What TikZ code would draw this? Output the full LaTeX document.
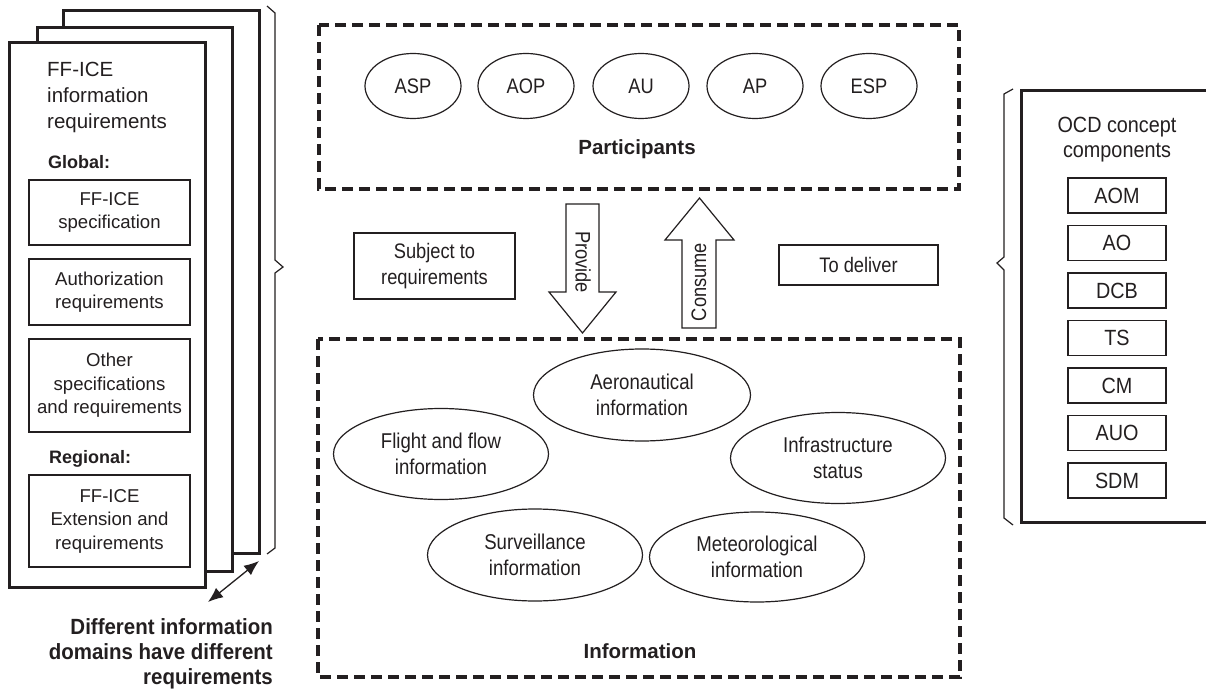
\documentclass[tikz,border=0pt]{standalone}
\usepackage{fontspec}
\setmainfont{Liberation Sans}
\newfontfamily\cond[FakeStretch=0.87]{Liberation Sans}
\newfontfamily\rcond[FakeStretch=0.9]{Liberation Sans}
\newfontfamily\dcond[FakeStretch=0.93]{Liberation Sans}
\usetikzlibrary{shapes.geometric,arrows.meta}
\definecolor{ink}{RGB}{35,31,32}
\tikzset{
  page/.style={draw=ink, line width=3pt, fill=white},
  lbox/.style={draw=ink, line width=1.3pt, minimum width=161pt, inner sep=0pt, align=center, font=\fontsize{18.6}{23.5}\selectfont},
  lhead/.style={inner sep=0pt, align=left, font=\fontsize{20.5}{26}\selectfont},
  lsub/.style={inner sep=0pt, font=\bfseries\fontsize{18}{22}\selectfont},
  dbox/.style={draw=ink, line width=3.1pt, dash pattern=on 11pt off 6pt},
  pell/.style={ellipse, draw=ink, line width=1.2pt, minimum width=96pt, minimum height=65pt, inner sep=0pt, font=\cond\fontsize{21}{26}\selectfont},
  iell/.style={ellipse, draw=ink, line width=1.2pt, minimum width=215pt, minimum height=91pt, inner sep=0pt, align=center, font=\cond\fontsize{21.4}{26}\selectfont},
  blabel/.style={inner sep=0pt, font=\bfseries\fontsize{20.5}{25}\selectfont},
  mbox/.style={draw=ink, line width=1.3pt, inner sep=0pt, align=center, font=\cond\fontsize{21}{26}\selectfont},
  barrow/.style={draw=ink, line width=1.2pt, fill=white},
  alabel/.style={inner sep=0pt, font=\cond\fontsize{21}{26}\selectfont},
  rbox/.style={draw=ink, line width=1.4pt, minimum width=98pt, minimum height=35pt, inner sep=0pt, font=\rcond\fontsize{22}{25}\selectfont},
  bracepath/.style={draw=ink, line width=1.2pt},
  dnote/.style={inner sep=0pt, align=right, font=\dcond\bfseries\fontsize{22}{25}\selectfont},
}
\begin{document}
\begin{tikzpicture}[x=1pt,y=-1pt, every node/.style={text=ink}]
\useasboundingbox (0,0) rectangle (1206,692);
\fill[white] (0,0) rectangle (1206,692);

% ---------- left stack ----------
\draw[page] (63,11) rectangle (259,553);
\draw[page] (37,28) rectangle (232,571);
\draw[page] (9,43) rectangle (205,587);

\node[lhead, anchor=north west] (lhd) at (47,61.5) {FF-ICE\\information\\requirements};
\node[lsub, anchor=base west] (glob) at (48,169) {Global:};
\node[lbox, minimum height=65pt] (g1) at (109.5,212.5) {FF-ICE\\specification};
\node[lbox, minimum height=66pt] (g2) at (109.5,292) {Authorization\\requirements};
\node[lbox, minimum height=93pt] (g3) at (109.5,385.5) {Other\\specifications\\and requirements};
\node[lsub, anchor=base west] (regn) at (49,463) {Regional:};
\node[lbox, minimum height=92pt] (r1) at (109.5,521) {FF-ICE\\Extension and\\requirements};

% left brace
\draw[bracepath] (267,6) -- (275,13) -- (275,260) -- (283,267) -- (275,273) -- (275,548) -- (267,554);

% double arrow
\coordinate (da1) at (208,602);
\coordinate (da2) at (259,561);
\draw[line width=1.3pt, draw=ink, {Latex[length=15pt,width=12pt]}-{Latex[length=15pt,width=12pt]}] (da1) -- (da2);

\node[dnote, anchor=north east] (note) at (273,618) {Different information\\domains have different\\requirements};

% ---------- participants ----------
\draw[dbox] (319,25) rectangle (959,189);
\node[pell] (asp) at (413,86) {ASP};
\node[pell] (aop) at (526,86) {AOP};
\node[pell] (au)  at (641,86) {AU};
\node[pell] (ap)  at (755,86) {AP};
\node[pell] (esp) at (869,86) {ESP};
\node[blabel, anchor=base] (plab) at (637,155) {Participants};

% ---------- middle ----------
\node[mbox, minimum width=161pt, minimum height=66pt] (subj) at (434.5,266) {Subject to\\requirements};
\node[mbox, minimum width=159pt, minimum height=40pt] (deliv) at (858.5,265) {To deliver};

\draw[barrow] (566,204) -- (599,204) -- (599,292) -- (616,292) -- (582.5,333) -- (549,292) -- (566,292) -- cycle;
\node[alabel, rotate=-90] (prov) at (583,262) {Provide};
\draw[barrow] (699.5,198) -- (734,240) -- (716,240) -- (716,328) -- (682,328) -- (682,240) -- (665,240) -- cycle;
\node[alabel, rotate=90] (cons) at (699,282) {Consume};

% ---------- information ----------
\draw[dbox] (318,339) rectangle (960,677);
\node[iell, minimum width=217pt, minimum height=92pt] (aer) at (642,395) {Aeronautical\\information};
\node[iell] (flt) at (441,454) {Flight and flow\\information};
\node[iell] (inf) at (838,458) {Infrastructure\\status};
\node[iell, minimum height=92pt] (sur) at (535,555) {Surveillance\\information};
\node[iell, minimum height=90pt] (met) at (757,557) {Meteorological\\information};
\node[blabel, anchor=base] (ilab) at (640,658) {Information};

% ---------- right panel ----------
\draw[bracepath] (1013,89) -- (1004,94) -- (1004,257) -- (997,263) -- (1004,270) -- (1004,518) -- (1013,525);
\draw[draw=ink, line width=3pt] (1215,91) -- (1021,91) -- (1021,522) -- (1215,522);
\node[inner sep=0pt, align=center, anchor=north, font=\rcond\fontsize{22}{25}\selectfont] (ocd) at (1117,117) {OCD concept\\components};
\node[rbox] (aom) at (1117,195.5) {AOM};
\node[rbox] (ao)  at (1117,243) {AO};
\node[rbox] (dcb) at (1117,290.5) {DCB};
\node[rbox] (ts)  at (1117,338) {TS};
\node[rbox] (cm)  at (1117,385.5) {CM};
\node[rbox] (auo) at (1117,433) {AUO};
\node[rbox] (sdm) at (1117,480.5) {SDM};
\end{tikzpicture}
\end{document}
